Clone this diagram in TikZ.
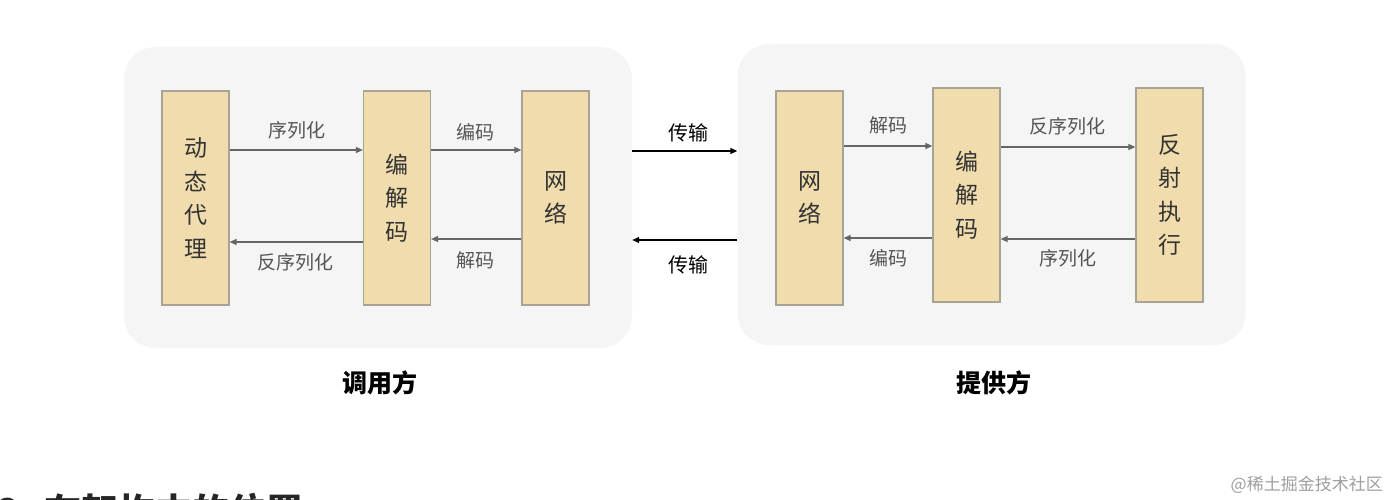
\documentclass[tikz,border=0pt]{standalone}
\usepackage{fontspec}
\setmainfont{Noto Sans CJK SC}
\usetikzlibrary{arrows.meta}
\definecolor{panelbg}{HTML}{F5F5F5}
\definecolor{boxfill}{HTML}{F0DCAC}
\definecolor{boxline}{HTML}{A9A396}
\definecolor{arrgray}{HTML}{666666}
\definecolor{labgray}{HTML}{555555}
\definecolor{boxtext}{HTML}{333333}
\begin{document}
\begin{tikzpicture}[x=1pt,y=-1pt,
  panel/.style={fill=panelbg, draw=none, rounded corners=32pt, minimum width=508pt, minimum height=301pt, inner sep=0pt},
  block/.style={fill=boxfill, draw=boxline, line width=1.2pt, minimum width=67pt, minimum height=214pt, inner sep=0pt, align=center, text=boxtext, font={\fontsize{23}{33.5}\selectfont}},
  arr/.style={draw=arrgray, line width=1.2pt, -{Triangle[length=7pt,width=6pt]}},
  blackarr/.style={draw=black, line width=1.1pt, -{Triangle[length=7pt,width=6pt]}},
  lab/.style={text=labgray, font={\fontsize{19}{22}\selectfont}, inner sep=0pt},
  midlab/.style={text=black, font={\fontsize{20}{22}\selectfont}, inner sep=0pt},
  title/.style={text=black, font={\fontsize{25}{28}\selectfont\bfseries}, inner sep=0pt}]
\clip (0,0) rectangle (1388,500);
\fill[white] (0,0) rectangle (1388,500);

% panels
\node[panel] (lp) at (378,197.5) {};
\node[panel] (rp) at (991.5,194.5) {};

% left blocks
\node[block] (A) at (195.5,198) {动\\态\\代\\理};
\node[block] (B) at (397,198) {编\\解\\码};
\node[block] (C) at (555.5,198) {网\\络};

% right blocks
\node[block] (D) at (809.5,198) {网\\络};
\node[block] (E) at (966.5,195) {编\\解\\码};
\node[block] (F) at (1169.5,195) {反\\射\\执\\行};

% left arrows
\draw[arr] (A.east |- 0,150) -- (B.west |- 0,150);
\draw[arr] (B.west |- 0,242) -- (A.east |- 0,242);
\draw[arr] (B.east |- 0,150) -- (C.west |- 0,150);
\draw[arr] (C.west |- 0,239) -- (B.east |- 0,239);
\node[lab] (l1) at (297,130) {序列化};
\node[lab] (l2) at (295,262) {反序列化};
\node[lab] (l3) at (475,132) {编码};
\node[lab] (l4) at (475,260) {解码};

% right arrows
\draw[arr] (D.east |- 0,146) -- (E.west |- 0,146);
\draw[arr] (E.west |- 0,238) -- (D.east |- 0,238);
\draw[arr] (E.east |- 0,147) -- (F.west |- 0,147);
\draw[arr] (F.west |- 0,239) -- (E.east |- 0,239);
\node[lab] (r1) at (888,125) {解码};
\node[lab] (r2) at (888,258) {编码};
\node[lab] (r3) at (1067,126) {反序列化};
\node[lab] (r4) at (1068,258) {序列化};

% middle transport arrows
\draw[blackarr] (lp.east |- 0,151) -- (rp.west |- 0,151);
\draw[blackarr] (rp.west |- 0,240) -- (lp.east |- 0,240);
\node[midlab] (m1) at (688,133) {传输};
\node[midlab] (m2) at (688,265) {传输};

% titles
\node[title] (t1) at (380,383) {调用方};
\node[title] (t2) at (994,383) {提供方};

% watermark
\node[text=gray!75, font={\fontsize{17}{20}\selectfont}, inner sep=0pt, anchor=east] (wm) at (1383,485) {@稀土掘金技术社区};

% cut-off heading at the bottom
\node[text=black!85, font={\fontsize{37}{40}\selectfont\bfseries}, inner sep=0pt, anchor=base west] (hd) at (-3,525) {2. 在架构中的位置};
\end{tikzpicture}
\end{document}
